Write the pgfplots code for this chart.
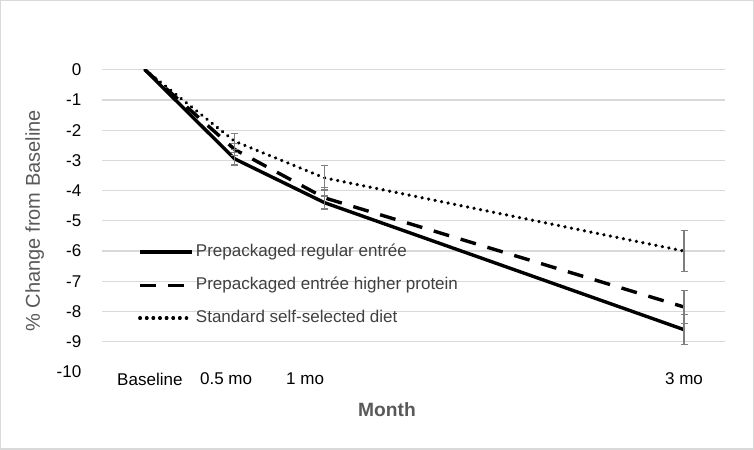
\documentclass[border=0pt]{standalone}
\usepackage{fontspec}
\setmainfont{Liberation Sans}
\usepackage{pgfplots}
\pgfplotsset{compat=1.18}
\definecolor{GridGray}{HTML}{D9D9D9}
\definecolor{TickInk}{HTML}{404040}
\definecolor{TitleInk}{HTML}{595959}
\definecolor{ErrGray}{HTML}{7F7F7F}

\begin{document}
\begin{tikzpicture}
\draw[GridGray, line width=0.6pt] (-50.5pt,-38.5pt) rectangle (325.5pt,185.5pt);
\begin{axis}[
  scale only axis,
  width=311.5pt,
  height=151pt,
  xmin=-0.24, xmax=3.23,
  ymin=-10, ymax=0,
  axis line style={draw=none},
  tick style={draw=none},
  ytick={-9,-8,...,0},
  extra y ticks={-10},
  extra y tick style={grid=none},
  ymajorgrids=true,
  grid style={draw=GridGray, line width=0.6pt},
  xtick={0.028,0.452,0.892,3.0},
  xticklabels={Baseline,0.5 mo,1 mo,3 mo},
  xticklabel style={anchor=center, yshift=-3.5pt, font=\fontsize{8.5}{10}\selectfont, text=black},
  yticklabel style={anchor=east, inner sep=0pt, xshift=-10pt, font=\fontsize{8.5}{10}\selectfont, text=black},
  /pgf/number format/assume math mode=true,
  ylabel={\% Change from Baseline},
  every axis y label/.style={at={(axis description cs:-0.1075,0.5)}, rotate=90, anchor=center, font=\fontsize{10}{12}\selectfont, text=TitleInk},
  xlabel={\textbf{Month}},
  every axis x label/.style={at={(axis description cs:0.4575,-0.126)}, anchor=center, font=\fontsize{9.6}{11}\selectfont, text=TitleInk},
  legend style={at={(rel axis cs:0.058,0.43)}, anchor=north west, draw=none, fill=none,
    font=\fontsize{8.5}{10}\selectfont, text=TickInk, row sep=6.75pt, inner sep=0pt,
    nodes={inner sep=1pt}},
  legend cell align=left,
  legend image code/.code={\draw[#1] (0pt,0pt) -- (22.5pt,0pt); \path (0pt,0pt) -- (26pt,0pt);},
]
\addplot[black, line width=1.7pt, mark=none] coordinates {
  (0,0) (0.5,-2.95) (1,-4.4) (3,-8.6)
};
\addlegendentry{Prepackaged regular entrée}
\addplot[black, line width=1.7pt, mark=none, dash pattern=on 8pt off 6pt] coordinates {
  (0,0) (0.5,-2.64) (1,-4.24) (3,-7.85)
};
\addlegendentry{Prepackaged entrée higher protein}
\addplot[black, line width=1.8pt, mark=none, line cap=round, dash pattern=on 0.01pt off 3.3pt] coordinates {
  (0,0) (0.5,-2.37) (1,-3.58) (3,-6.0)
};
\addlegendentry{Standard self-selected diet}
% error bars only
\addplot[forget plot, draw=none, mark=none,
  error bars/.cd, y dir=both, y explicit,
  error bar style={draw=ErrGray, line width=0.6pt, solid},
  error mark options={draw=ErrGray, line width=0.6pt, rotate=90, mark size=1.75pt, solid}]
coordinates {
  (0.5,-2.95) +- (0,0.2)
  (1,-4.4) +- (0,0.22)
  (3,-8.6) +- (0,0.5)
  (0.5,-2.64) +- (0,0.2)
  (1,-4.24) +- (0,0.34)
  (3,-7.85) +- (0,0.55)
  (0.5,-2.37) +- (0,0.27)
  (1,-3.58) +- (0,0.4)
  (3,-6.0) +- (0,0.67)
};
\end{axis}
\end{tikzpicture}
\end{document}
